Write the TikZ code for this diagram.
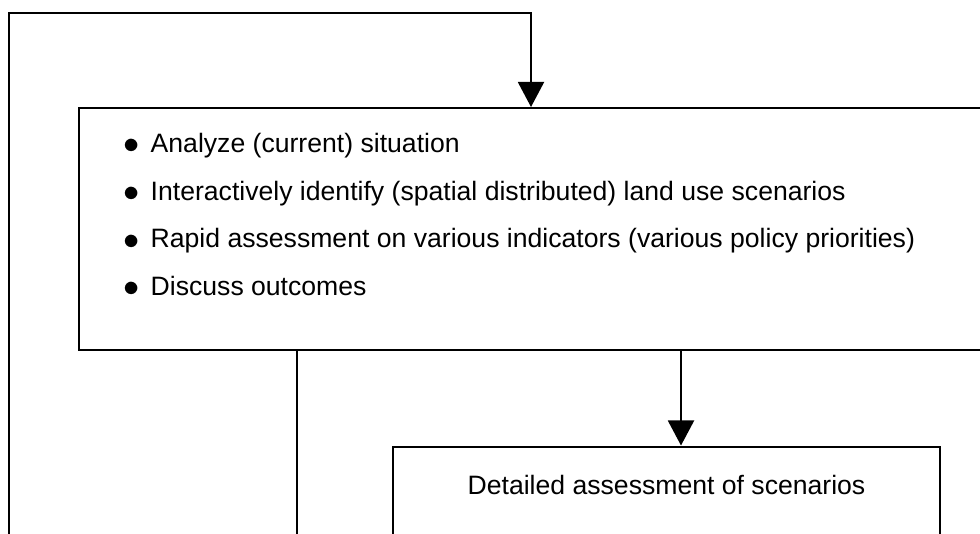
\documentclass[tikz,border=0pt]{standalone}
\usepackage{fontspec}
\setmainfont{Liberation Sans}
\usetikzlibrary{arrows.meta,positioning}

\tikzset{
  frame/.style={draw, line width=2pt, rectangle, inner sep=0pt},
  flow/.style={line width=2pt, -{Triangle[width=26pt,length=25pt]}},
  link/.style={line width=2pt},
  tasklist/.style={align=left, inner sep=0pt, anchor=north west,
                   font=\fontsize{26.6}{47.7}\selectfont}
}
\newcommand{\task}[1]{\makebox[27.5pt][l]{\raisebox{-1.2pt}{\scalebox{1.3}{$\bullet$}}}#1}

\begin{document}
\begin{tikzpicture}[x=1pt, y=-1pt]
\useasboundingbox (0,0) rectangle (980,534);
\clip (0,0) rectangle (980,534);

% workshop box
\node[frame, anchor=north west, minimum width=940pt, minimum height=242pt] (workshop) at (78,107) {};
\node[tasklist] (tasks) at (123,133)
{
\task{Analyze (current) situation}\\
\task{Interactively identify (spatial distributed) land use scenarios}\\
\task{Rapid assessment on various indicators (various policy priorities)}\\
\task{Discuss outcomes}
};

% detailed assessment
\node[frame, anchor=north, minimum width=547pt, text height=48pt, text depth=120pt,
      font=\fontsize{26.6}{32}\selectfont] (detail) at (666.5,445.5) {Detailed assessment of scenarios};

\coordinate (drop) at ([xshift=14.5pt]detail.north);
\coordinate (exit) at (297,560);
\coordinate (back) at (9,560);
\coordinate (top) at (531,13.5);

\draw[flow] (workshop.south -| drop) -- (drop);
\draw[link] (workshop.south -| exit) -- (exit);
\draw[flow] (back) |- (top) -- (workshop.north -| top);
\end{tikzpicture}
\end{document}
